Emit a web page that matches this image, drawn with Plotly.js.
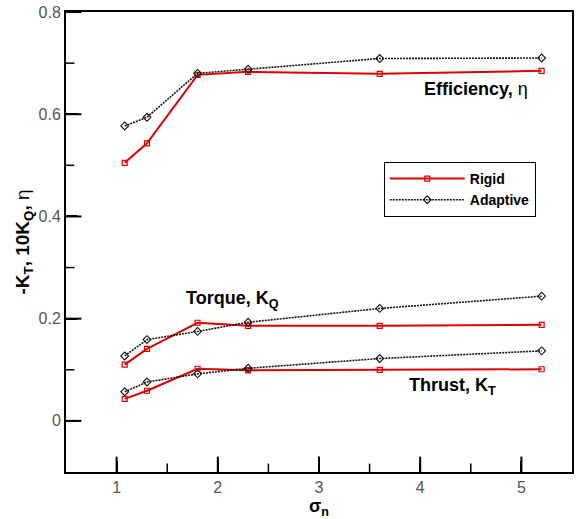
<!DOCTYPE html>
<html>
<head>
<meta charset="utf-8">
<script src="https://cdn.plot.ly/plotly-3.0.1.min.js"></script>
<style>html,body{margin:0;padding:0;background:#fff;}#chart{width:577px;height:519px;}</style>
</head>
<body>
<div id="chart"></div>
<script>
// Cavitation number sigma_n
var sigma = [1.08, 1.3, 1.8, 2.3, 3.6, 5.2];

// Efficiency eta
var etaRigid    = [0.505, 0.543, 0.677, 0.683, 0.679, 0.685];
var etaAdaptive = [0.577, 0.594, 0.680, 0.688, 0.709, 0.710];

// Torque 10K_Q
var kqRigid    = [0.110, 0.141, 0.192, 0.186, 0.186, 0.188];
var kqAdaptive = [0.127, 0.159, 0.175, 0.193, 0.220, 0.244];

// Thrust -K_T
var ktRigid    = [0.043, 0.059, 0.102, 0.099, 0.100, 0.101];
var ktAdaptive = [0.057, 0.076, 0.092, 0.103, 0.122, 0.137];

var seriesNames = ["Rigid", "Adaptive"];

// Axis ranges and tick positions
var xRange = [0.5, 5.5];
var yRange = [-0.1, 0.8];
var xMajorTicks = [1, 2, 3, 4, 5];
var xMinorTicks = [1.5, 2.5, 3.5, 4.5];
var yMajorTicks = [0, 0.2, 0.4, 0.6, 0.8];
var yMinorTicks = [0.1, 0.3, 0.5, 0.7];

var red = "rgb(220,0,0)";
var dark = "rgb(20,20,20)";

function rigid(y, show) {
  return {x: sigma, y: y, type: "scatter", mode: "lines+markers", name: seriesNames[0],
    showlegend: show, legendgroup: "r",
    line: {color: red, width: 2},
    marker: {symbol: "square-open", size: 5, color: red, line: {width: 1.2, color: red}}};
}
function adaptive(y, show) {
  return {x: sigma, y: y, type: "scatter", mode: "lines+markers", name: seriesNames[1],
    showlegend: show, legendgroup: "a",
    line: {color: dark, width: 1.6, dash: "2px,1px"},
    marker: {symbol: "diamond-open", size: 6, color: dark, line: {width: 1.1, color: dark}}};
}

// Inside tick marks as clipped line markers sitting on the axis lines
function tickMarks(xs, ys, symbol, size, width) {
  return {x: xs, y: ys, type: "scatter", mode: "markers", showlegend: false, hoverinfo: "skip",
    cliponaxis: true,
    marker: {symbol: symbol, size: size, color: "#000", line: {width: width, color: "#000"}}};
}

var data = [
  rigid(etaRigid, true), adaptive(etaAdaptive, true),
  rigid(kqRigid, false), adaptive(kqAdaptive, false),
  rigid(ktRigid, false), adaptive(ktAdaptive, false),
  tickMarks(xMajorTicks, xMajorTicks.map(function () { return yRange[0]; }), "line-ns", 22, 2),
  tickMarks(xMinorTicks, xMinorTicks.map(function () { return yRange[0]; }), "line-ns", 12, 1.5),
  tickMarks(yMajorTicks.map(function () { return xRange[0]; }), yMajorTicks, "line-ew", 22, 2),
  tickMarks(yMinorTicks.map(function () { return xRange[0]; }), yMinorTicks, "line-ew", 12, 1.5)
];

var tickFont = {family: "Liberation Sans, Arial, sans-serif", size: 16, color: "#555"};
var labFont = {family: "Liberation Sans, Arial, sans-serif", size: 18, color: "#000"};

var layout = {
  width: 577, height: 519,
  margin: {l: 66, r: 5, t: 12, b: 47, pad: 0},
  paper_bgcolor: "#fff", plot_bgcolor: "#fff",
  showlegend: true,
  legend: {
    x: 0.628, y: 0.674, xanchor: "left", yanchor: "top",
    bordercolor: "#000", borderwidth: 1, bgcolor: "#fff",
    itemwidth: 75,
    font: {family: "Liberation Sans, Arial, sans-serif", size: 14, color: "#000", weight: "bold"},
    tracegroupgap: 0
  },
  xaxis: {
    range: xRange, tickvals: xMajorTicks, ticktext: xMajorTicks.map(String),
    ticks: "inside", ticklen: 11, tickwidth: 2, tickcolor: "#000",
    showline: true, linecolor: "#000", linewidth: 2, mirror: true,
    showgrid: false, zeroline: false,
    tickfont: tickFont,
    title: {text: "<b>σ<sub>n</sub></b>", font: labFont, standoff: 0}
  },
  yaxis: {
    range: yRange, tickvals: yMajorTicks, ticktext: yMajorTicks.map(String),
    ticks: "inside", ticklen: 11, tickwidth: 2, tickcolor: "#000",
    showline: true, linecolor: "#000", linewidth: 2, mirror: true,
    showgrid: false, zeroline: false,
    tickfont: tickFont,
    title: {text: "<b>-K<sub>T</sub>, 10K<sub>Q</sub>,</b> η", font: {family: "Liberation Sans, Arial, sans-serif", size: 19, color: "#000"}, standoff: 4}
  },
  annotations: [
    {x: 4.55, y: 0.649, xref: "x", yref: "y", text: "<b>Efficiency,</b> η", showarrow: false,
     font: labFont, xanchor: "center", yanchor: "middle"},
    {x: 2.15, y: 0.238, xref: "x", yref: "y", text: "<b>Torque, K<sub>Q</sub></b>", showarrow: false,
     font: labFont, xanchor: "center", yanchor: "middle"},
    {x: 4.32, y: 0.068, xref: "x", yref: "y", text: "<b>Thrust, K<sub>T</sub></b>", showarrow: false,
     font: labFont, xanchor: "center", yanchor: "middle"}
  ]
};

Plotly.newPlot("chart", data, layout, {displayModeBar: false});
</script>
</body>
</html>
